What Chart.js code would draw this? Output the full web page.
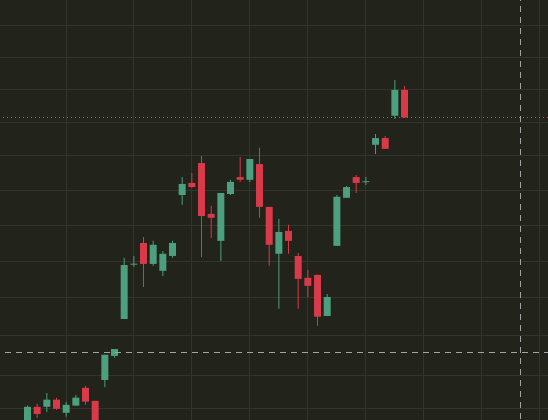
<!DOCTYPE html>
<html>
<head>
<meta charset="utf-8">
<script src="https://cdn.jsdelivr.net/npm/chart.js@4.4.1/dist/chart.umd.min.js"></script>
<style>
html,body{margin:0;padding:0;background:#22231a;overflow:hidden}
#wrap{position:relative;width:548px;height:420px}
canvas{display:block}
</style>
</head>
<body>
<div id="wrap"><canvas id="c" width="548" height="420"></canvas></div>
<script>
// ---- data (one candle per bar index) ----
const bars   = [0,1,2,3,4,5,6,7,8,9,10,11,12,13,14,15,16,17,18,19,20,21,22,23,24,25,26,27,28,29,30,31,32,33,34,35,36,37,38,39];
const opens  = [38.71,39.16,39.16,39.34,39.01,39.19,39.64,39.31,39.84,40.46,41.43,42.90,43.50,42.92,42.73,43.14,44.86,45.21,45.79,44.32,43.56,44.89,45.38,45.30,45.76,44.52,43.20,43.84,43.14,42.54,42.62,41.51,43.42,44.78,45.38,45.23,46.33,46.53,47.20,47.99];
const highs  = [39.19,39.24,39.51,39.39,39.29,39.46,39.69,39.31,40.49,40.64,43.09,43.14,43.67,43.56,43.28,43.56,45.38,45.50,46.00,44.55,44.92,45.30,45.97,45.91,46.24,44.52,44.18,44.01,43.22,42.76,42.62,42.10,44.86,45.12,45.44,45.38,46.65,46.59,48.30,48.11];
const lows   = [38.64,38.88,39.03,39.08,38.91,39.19,39.21,38.64,39.66,40.41,41.43,42.84,42.29,42.87,42.59,43.09,44.58,45.07,43.11,43.64,43.00,44.86,45.24,45.24,44.21,42.87,41.70,43.20,41.70,42.02,41.25,41.51,43.42,44.78,44.92,45.15,46.06,46.21,47.10,47.13];
const closes = [39.16,38.98,39.34,39.11,39.21,39.39,39.29,38.71,40.49,40.64,42.89,42.92,42.92,43.45,43.20,43.50,45.18,45.09,44.26,44.21,44.92,45.24,45.30,45.91,44.52,43.45,43.81,43.56,42.51,42.32,41.49,42.02,44.81,45.09,45.21,45.24,46.53,46.21,47.99,47.15];

// grid positions (bar indices) and price grid levels
const gridBars   = [0,8,14,20,26,32,38,44,50];
const gridPrices = [50,49,48,47,46,45,44,43,42,41,39.95,39.13];

// crosshair position
const crossBar   = 51;
const crossPrice = 40.56;

// ---- styles ----
const UP = '#4c9f7f', DOWN = '#d83a4a';
const GRID = '#33352a';
const CROSS = '#a2a4a8';
const PRICE_LINE = '#c9524c';

const colors = bars.map(i => closes[i] >= opens[i] ? UP : DOWN);

const overlay = {
  id: 'overlay',
  afterDatasetsDraw(chart) {
    const {ctx, chartArea: a, scales: {x, y}} = chart;
    ctx.save();
    ctx.lineWidth = 1;
    // last price dotted line
    const py = Math.floor(y.getPixelForValue(closes[closes.length - 1])) + 0.5;
    ctx.strokeStyle = PRICE_LINE;
    ctx.setLineDash([1, 3]);
    ctx.lineDashOffset = -3;
    ctx.beginPath(); ctx.moveTo(a.left, py); ctx.lineTo(a.right, py); ctx.stroke();
    // crosshair
    ctx.strokeStyle = CROSS;
    ctx.setLineDash([6, 5]);
    const cx = Math.floor(x.getPixelForValue(crossBar)) + 0.5;
    const cy = Math.floor(y.getPixelForValue(crossPrice)) + 0.5;
    ctx.lineDashOffset = -5;
    ctx.beginPath(); ctx.moveTo(a.left, cy); ctx.lineTo(a.right, cy); ctx.stroke();
    ctx.lineDashOffset = -6;
    ctx.beginPath(); ctx.moveTo(cx, a.top); ctx.lineTo(cx, a.bottom); ctx.stroke();
    ctx.restore();
  }
};

new Chart(document.getElementById('c'), {
  type: 'bar',
  data: {
    datasets: [
      {
        label: 'body',
        data: bars.map(i => ({x: i, y: [opens[i], closes[i]]})),
        backgroundColor: colors,
        barThickness: 7,
        minBarLength: 1,
        borderWidth: 0,
        inflateAmount: 0,
        grouped: false
      },
      {
        label: 'wick',
        data: bars.map(i => ({x: i, y: [lows[i], highs[i]]})),
        backgroundColor: colors,
        barThickness: 1,
        borderWidth: 0,
        inflateAmount: 0,
        grouped: false
      }
    ]
  },
  options: {
    responsive: false,
    animation: false,
    events: [],
    layout: {padding: 0},
    plugins: {legend: {display: false}, tooltip: {enabled: false}},
    scales: {
      x: {
        type: 'linear', min: -2.845, max: 53.84, offset: false,
        ticks: {display: false},
        border: {display: false},
        grid: {color: GRID, drawTicks: false, lineWidth: 1},
        afterBuildTicks: s => { s.ticks = gridBars.map(v => ({value: v})); }
      },
      y: {
        type: 'logarithmic', min: 38.83, max: 50.84,
        ticks: {display: false},
        border: {display: false},
        grid: {color: GRID, drawTicks: false, lineWidth: 1},
        afterBuildTicks: s => { s.ticks = gridPrices.map(v => ({value: v})); }
      }
    }
  },
  plugins: [overlay]
});
</script>
</body>
</html>
